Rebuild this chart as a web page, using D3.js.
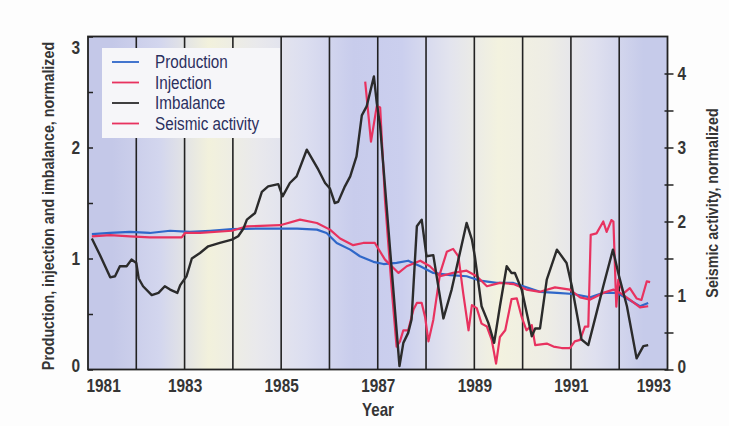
<!DOCTYPE html>
<html>
<head>
<meta charset="utf-8">
<script src="https://cdn.jsdelivr.net/npm/d3@7"></script>
<style>
  html, body { margin: 0; padding: 0; background: #fdfdfd; }
  svg { display: block; }
  text { font-family: "Liberation Sans", Arial, sans-serif; }
</style>
</head>
<body>
<svg id="chart" width="729" height="426"></svg>
<script>
// ---- data ----
const years = [1981, 1982, 1983, 1984, 1985, 1986, 1987, 1988, 1989, 1990, 1991, 1992, 1993];
const xTickLabels = ["1981", "1983", "1985", "1987", "1989", "1991", "1993"];
const leftTicks = [0, 0.5, 1, 1.5, 2, 2.5, 3];
const rightTicks = [0, 0.5, 1, 1.5, 2, 2.5, 3, 3.5, 4];
const seriesNames = ["Production", "Injection", "Imbalance", "Seismic activity"];

const productionT = [1981.08,1981.46,1981.87,1982.28,1982.70,1983.11,1983.53,1983.98,1984.62,1985.33,1985.74,1985.94,1986.15,1986.43,1986.63,1986.91,1987.12,1987.39,1987.63,1987.88,1988.15,1988.50,1988.84,1989.12,1989.46,1989.81,1990.08,1990.36,1990.71,1991.05,1991.40,1991.67,1991.95,1992.16,1992.43,1992.60];
const productionV = [1.22,1.23,1.24,1.23,1.25,1.24,1.25,1.265,1.27,1.27,1.26,1.23,1.14,1.08,1.02,0.97,0.95,0.96,0.98,0.93,0.87,0.85,0.84,0.80,0.78,0.78,0.74,0.70,0.69,0.68,0.65,0.69,0.69,0.64,0.57,0.60];

const injectionT = [1981.08,1981.46,1981.87,1982.28,1982.70,1982.94,1983.01,1983.32,1983.98,1984.29,1984.98,1985.39,1985.74,1986.01,1986.22,1986.49,1986.70,1986.94,1987.15,1987.43,1987.60,1987.88,1988.08,1988.29,1988.56,1988.84,1989.05,1989.26,1989.53,1989.81,1990.08,1990.36,1990.67,1990.98,1991.19,1991.40,1991.67,1991.88,1992.02,1992.22,1992.43,1992.60];
const injectionV = [1.20,1.21,1.20,1.19,1.19,1.19,1.23,1.23,1.25,1.29,1.30,1.35,1.32,1.26,1.18,1.12,1.14,1.14,0.99,0.87,0.93,0.98,0.93,0.84,0.87,0.89,0.84,0.75,0.78,0.77,0.72,0.70,0.74,0.72,0.65,0.63,0.69,0.72,0.69,0.63,0.56,0.57];

const imbalanceT = [1981.08,1981.25,1981.46,1981.56,1981.66,1981.80,1981.90,1982.00,1982.05,1982.14,1982.32,1982.46,1982.59,1982.70,1982.85,1982.91,1983.04,1983.15,1983.32,1983.49,1983.73,1983.98,1984.11,1984.22,1984.29,1984.46,1984.60,1984.73,1984.94,1985.03,1985.18,1985.32,1985.53,1985.77,1985.91,1986.01,1986.11,1986.18,1986.32,1986.43,1986.56,1986.67,1986.77,1986.87,1986.92,1986.98,1987.05,1987.45,1987.53,1987.63,1987.70,1987.81,1987.91,1988.01,1988.15,1988.36,1988.53,1988.67,1988.84,1988.95,1989.01,1989.15,1989.29,1989.41,1989.53,1989.67,1989.77,1989.84,1989.98,1990.19,1990.26,1990.36,1990.50,1990.71,1990.91,1991.02,1991.22,1991.36,1991.53,1991.67,1991.87,1991.98,1992.16,1992.36,1992.50,1992.60];
const imbalanceV = [1.18,1.03,0.83,0.84,0.93,0.93,0.99,0.96,0.82,0.75,0.67,0.69,0.75,0.72,0.69,0.76,0.84,1.00,1.05,1.11,1.14,1.17,1.20,1.27,1.35,1.41,1.60,1.65,1.67,1.56,1.68,1.74,1.98,1.80,1.68,1.63,1.50,1.51,1.65,1.74,1.92,2.29,2.37,2.55,2.64,2.40,2.19,0.03,0.24,0.33,0.45,1.29,1.35,1.02,1.03,0.46,0.72,0.99,1.32,1.17,1.02,0.57,0.42,0.24,0.57,0.93,0.87,0.87,0.72,0.30,0.37,0.37,0.81,1.08,0.96,0.75,0.27,0.22,0.51,0.75,1.08,0.87,0.57,0.10,0.21,0.22];

const seismicT = [1986.74,1986.86,1986.98,1987.05,1987.15,1987.29,1987.39,1987.46,1987.53,1987.63,1987.74,1987.81,1987.91,1987.98,1988.05,1988.15,1988.29,1988.43,1988.56,1988.67,1988.77,1988.88,1988.95,1989.05,1989.15,1989.26,1989.36,1989.45,1989.53,1989.64,1989.77,1989.88,1989.98,1990.08,1990.19,1990.26,1990.50,1990.64,1990.81,1990.98,1991.08,1991.19,1991.29,1991.36,1991.41,1991.53,1991.67,1991.74,1991.84,1991.88,1991.94,1991.98,1992.09,1992.22,1992.36,1992.46,1992.57,1992.64];
const seismicV = [3.89,3.08,3.56,3.54,2.29,1.08,0.31,0.38,0.53,0.53,0.81,0.90,0.90,0.71,0.38,0.67,1.30,1.59,1.63,1.53,1.03,0.53,0.87,0.83,0.62,0.58,0.40,0.08,0.44,0.53,0.95,0.96,0.71,0.53,0.60,0.33,0.35,0.31,0.29,0.29,0.38,0.40,0.58,0.58,1.82,1.84,2.00,1.86,2.02,2.00,0.85,1.21,1.03,1.10,0.96,0.94,1.19,1.18];

// background tint per year column (style)
const bgColors = ["#c4c8e8","#d3d6ee","#f2f1dc","#e9e9ec","#dcdef0","#c8ccec","#cbcfee","#e3e4ee","#f3f2df","#eeede5","#dfe0ef","#c6cbea"];

// ---- layout ----
const L = 88, R = 667.5, T = 36.5, B = 369.5;
const svg = d3.select("#chart");
const x = d3.scaleLinear().domain([1981, 1993]).range([L, R]);
const yL = d3.scaleLinear().domain([0, 3]).range([B, T]);
const yR = d3.scaleLinear().domain([0, 4.5]).range([B, T]);

// squeeze Arial-metric text into a condensed look
function condense(sel, f) {
  sel.each(function () {
    const w = this.getComputedTextLength();
    if (w > 0) {
      this.setAttribute("textLength", (w * f).toFixed(1));
      this.setAttribute("lengthAdjust", "spacingAndGlyphs");
    }
  });
}

const defs = svg.append("defs");
const grad = defs.append("linearGradient").attr("id", "bg")
  .attr("gradientUnits", "userSpaceOnUse")
  .attr("x1", L).attr("x2", R).attr("y1", 0).attr("y2", 0);
bgColors.forEach((c, i) => {
  grad.append("stop").attr("offset", (x(years[i] + 0.5) - L) / (R - L)).attr("stop-color", c);
});

svg.append("rect").attr("x", L).attr("y", T).attr("width", R - L).attr("height", B - T)
  .attr("fill", "url(#bg)");

// year grid lines
svg.append("g").selectAll("line").data(years.slice(1, -1)).join("line")
  .attr("x1", d => x(d)).attr("x2", d => x(d)).attr("y1", T).attr("y2", B)
  .attr("stroke", "#222").attr("stroke-width", 1.6);

// legend box (covers grid)
const lg = svg.append("g");
lg.append("rect").attr("x", 102).attr("y", 48).attr("width", 178).attr("height", 90).attr("fill", "#f6f6f9");

// lines
const colors = { prod: "#2f67c9", inj: "#e8325f", imb: "#2b2b2b", seis: "#e8325f" };
function drawLine(ts, vs, yScale, color, w) {
  const pts = ts.map((t, i) => [t, vs[i]]);
  svg.append("path").datum(pts)
    .attr("fill", "none").attr("stroke", color).attr("stroke-width", w)
    .attr("stroke-linejoin", "round")
    .attr("d", d3.line().x(d => x(d[0])).y(d => yScale(d[1])));
}
drawLine(productionT, productionV, yL, colors.prod, 2.2);
drawLine(injectionT, injectionV, yL, colors.inj, 2.2);
drawLine(seismicT, seismicV, yR, colors.seis, 2.2);
drawLine(imbalanceT, imbalanceV, yL, colors.imb, 2.4);

// frame
svg.append("rect").attr("x", L).attr("y", T).attr("width", R - L).attr("height", B - T)
  .attr("fill", "none").attr("stroke", "#222").attr("stroke-width", 1.8);

const tickColor = "#353535";
// left axis (inner ticks)
const la = svg.append("g").attr("transform", `translate(${L},0)`)
  .call(d3.axisLeft(yL).tickValues(leftTicks).tickSize(-5).tickPadding(8)
    .tickFormat(d => Number.isInteger(d) ? d3.format("d")(d) : ""));
la.select(".domain").remove();
la.selectAll(".tick line").attr("stroke", "#222").attr("stroke-width", 1.5);
la.selectAll(".tick text").attr("font-size", 18.5).attr("fill", tickColor).attr("font-weight", "bold")
  .attr("dy", d => d === 3 ? "0.9em" : (d === 0 ? "0.1em" : "0.35em"))
  .call(condense, 0.84);

// right axis
const ra = svg.append("g").attr("transform", `translate(${R},0)`)
  .call(d3.axisRight(yR).tickValues(rightTicks).tickSize(6).tickPadding(4)
    .tickFormat(d => Number.isInteger(d) ? d3.format("d")(d) : ""));
ra.select(".domain").remove();
ra.selectAll(".tick line").attr("stroke", "#222").attr("stroke-width", 1.5).attr("x1", -3);
ra.selectAll(".tick text").attr("font-size", 18.5).attr("fill", tickColor).attr("font-weight", "bold")
  .attr("dy", d => d === 0 ? "0.15em" : "0.35em")
  .call(condense, 0.84);

// x axis labels
const xa = svg.append("g").attr("transform", `translate(0,${B})`)
  .call(d3.axisBottom(x).tickValues(xTickLabels.map(Number)).tickSize(0).tickPadding(9)
    .tickFormat((d, i) => xTickLabels[i]));
xa.select(".domain").remove();
xa.selectAll(".tick text").attr("font-size", 18.5).attr("fill", tickColor).attr("font-weight", "bold")
  .attr("text-anchor", d => d === 1981 ? "start" : (d === 1993 ? "end" : "middle"))
  .attr("dx", d => d === 1993 ? 3 : (d === 1981 ? -2 : 0))
  .call(condense, 0.83);

// axis titles (horizontally condensed via scale)
svg.append("text").attr("transform", "translate(378,416) scale(0.84,1)").attr("text-anchor", "middle")
  .attr("font-size", 18).attr("fill", tickColor).attr("font-weight", "bold").text("Year");
svg.append("text").attr("transform", `translate(54,${(T + B) / 2 + 3}) rotate(-90) scale(0.84,1)`)
  .attr("text-anchor", "middle").attr("font-size", 17).attr("fill", tickColor).attr("font-weight", "bold")
  .text("Production, injection and imbalance, normalized");
svg.append("text").attr("transform", `translate(718,${(T + B) / 2}) rotate(-90) scale(0.84,1)`)
  .attr("text-anchor", "middle").attr("font-size", 17).attr("fill", tickColor).attr("font-weight", "bold")
  .text("Seismic activity, normalized");

// legend
const legColors = [colors.prod, colors.inj, colors.imb, colors.seis];
seriesNames.forEach((n, i) => {
  const yy = 62 + i * 20.5;
  lg.append("line").attr("x1", 112).attr("x2", 139).attr("y1", yy).attr("y2", yy)
    .attr("stroke", legColors[i]).attr("stroke-width", 1.8);
  lg.append("text").attr("x", 155).attr("y", yy).attr("dy", "0.35em")
    .attr("font-size", 17.5).attr("fill", "#2b2f5e").text(n)
    .call(condense, 0.87);
});
</script>
</body>
</html>
